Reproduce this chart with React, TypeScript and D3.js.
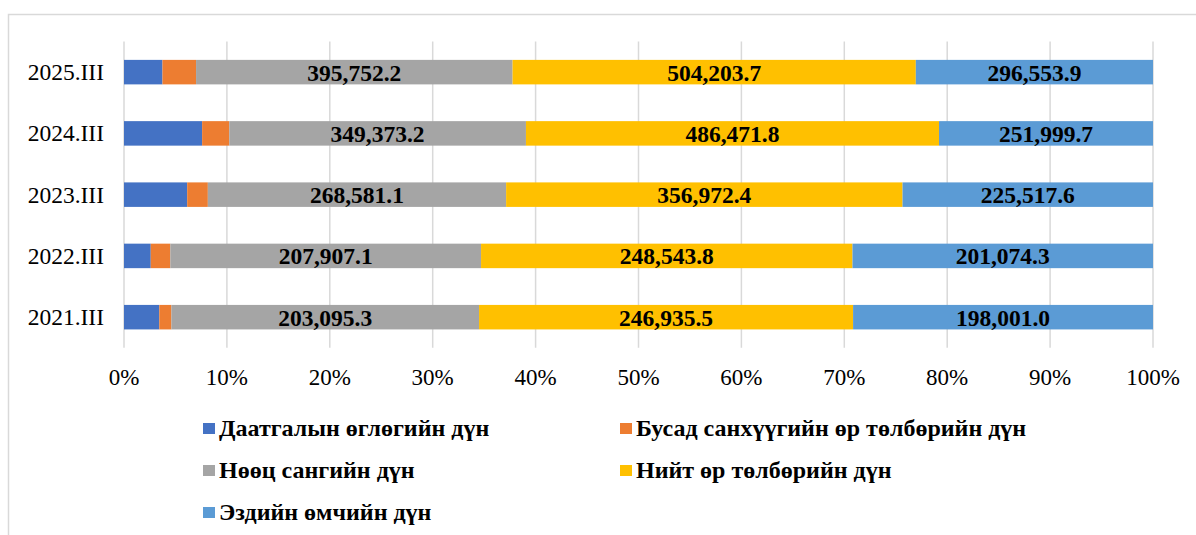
import React from "react";
import * as d3 from "d3";

const categories = ["2025.III", "2024.III", "2023.III", "2022.III", "2021.III"];

const seriesNames = [
  "Даатгалын өглөгийн дүн",
  "Бусад санхүүгийн өр төлбөрийн дүн",
  "Нөөц сангийн дүн",
  "Нийт өр төлбөрийн дүн",
  "Эздийн өмчийн дүн",
];

// (no labels in the picture)
const insurancePayables = [48100, 92000, 56900, 17900, 23300];
const otherLiabilities = [42000, 32000, 18600, 13100, 8000];
// labelled values
const reserveFund = [395752.2, 349373.2, 268581.1, 207907.1, 203095.3];
const totalLiabilities = [504203.7, 486471.8, 356972.4, 248543.8, 246935.5];
const ownersEquity = [296553.9, 251999.7, 225517.6, 201074.3, 198001.0];

const colors = ["#4472C4", "#ED7D31", "#A5A5A5", "#FFC000", "#5B9BD5"];
const labelled = [false, false, true, true, true];
const tickValues = [0, 0.1, 0.2, 0.3, 0.4, 0.5, 0.6, 0.7, 0.8, 0.9, 1];

const W = 1196;
const H = 535;
const margin = { left: 124, right: 43, top: 41.5, plotBottom: 347.8 };
const font = "'Liberation Serif', 'Times New Roman', serif";

export default function App() {
  const allSeries = [insurancePayables, otherLiabilities, reserveFund, totalLiabilities, ownersEquity];

  const rows = categories.map((c, i) => {
    const row: any = { cat: c };
    allSeries.forEach((s, k) => (row["s" + k] = s[i]));
    return row;
  });
  const keys = allSeries.map((_, k) => "s" + k);
  const stacked = d3.stack<any>().keys(keys).offset(d3.stackOffsetExpand)(rows);

  const x = d3.scaleLinear().domain([0, 1]).range([margin.left, W - margin.right]);
  const y = d3
    .scaleBand()
    .domain(categories)
    .range([margin.top, margin.plotBottom])
    .paddingInner(0.6)
    .paddingOuter(0.3);

  const fmt = d3.format(",.1f");

  const legendItems = [
    { i: 0, x: 203, y: 436 },
    { i: 1, x: 620, y: 436 },
    { i: 2, x: 203, y: 478 },
    { i: 3, x: 620, y: 478 },
    { i: 4, x: 203, y: 520 },
  ];

  return (
    <svg width={W} height={H} style={{ position: "absolute", left: 0, top: 0, background: "#fff" }}>
      <path d={`M8.5,${H} V14.5 H${W}`} fill="none" stroke="#d9d9d9" strokeWidth={1.5} />

      {tickValues.map((t) => (
        <g key={t}>
          <line
            x1={x(t)}
            x2={x(t)}
            y1={margin.top}
            y2={margin.plotBottom}
            stroke="#d9d9d9"
            strokeWidth={1.5}
          />
          <text x={x(t)} y={385} textAnchor="middle" fontFamily={font} fontSize={23} fill="#000">
            {d3.format(".0%")(t)}
          </text>
        </g>
      ))}

      {categories.map((c) => (
        <text
          key={c}
          x={104}
          y={(y(c) as number) + y.bandwidth() / 2 + 8}
          textAnchor="end"
          fontFamily={font}
          fontSize={23.5}
          fill="#000"
        >
          {c}
        </text>
      ))}

      {stacked.map((layer, k) => (
        <g key={k}>
          {layer.map((d, i) => (
            <rect
              key={i}
              x={x(d[0])}
              y={y(categories[i])}
              width={x(d[1]) - x(d[0])}
              height={y.bandwidth()}
              fill={colors[k]}
            />
          ))}
          {labelled[k] &&
            layer.map((d, i) => (
              <text
                key={"t" + i}
                x={(x(d[0]) + x(d[1])) / 2}
                y={(y(categories[i]) as number) + y.bandwidth() / 2 + 8.5}
                textAnchor="middle"
                fontFamily={font}
                fontWeight="bold"
                fontSize={23.5}
                fill="#000"
              >
                {fmt(allSeries[k][i])}
              </text>
            ))}
        </g>
      ))}

      {legendItems.map((l) => (
        <g key={l.i}>
          <rect x={l.x} y={l.y - 13} width={12} height={11} fill={colors[l.i]} />
          <text x={l.x + 16} y={l.y} fontFamily={font} fontWeight="bold" fontSize={24} fill="#000">
            {seriesNames[l.i]}
          </text>
        </g>
      ))}
    </svg>
  );
}
